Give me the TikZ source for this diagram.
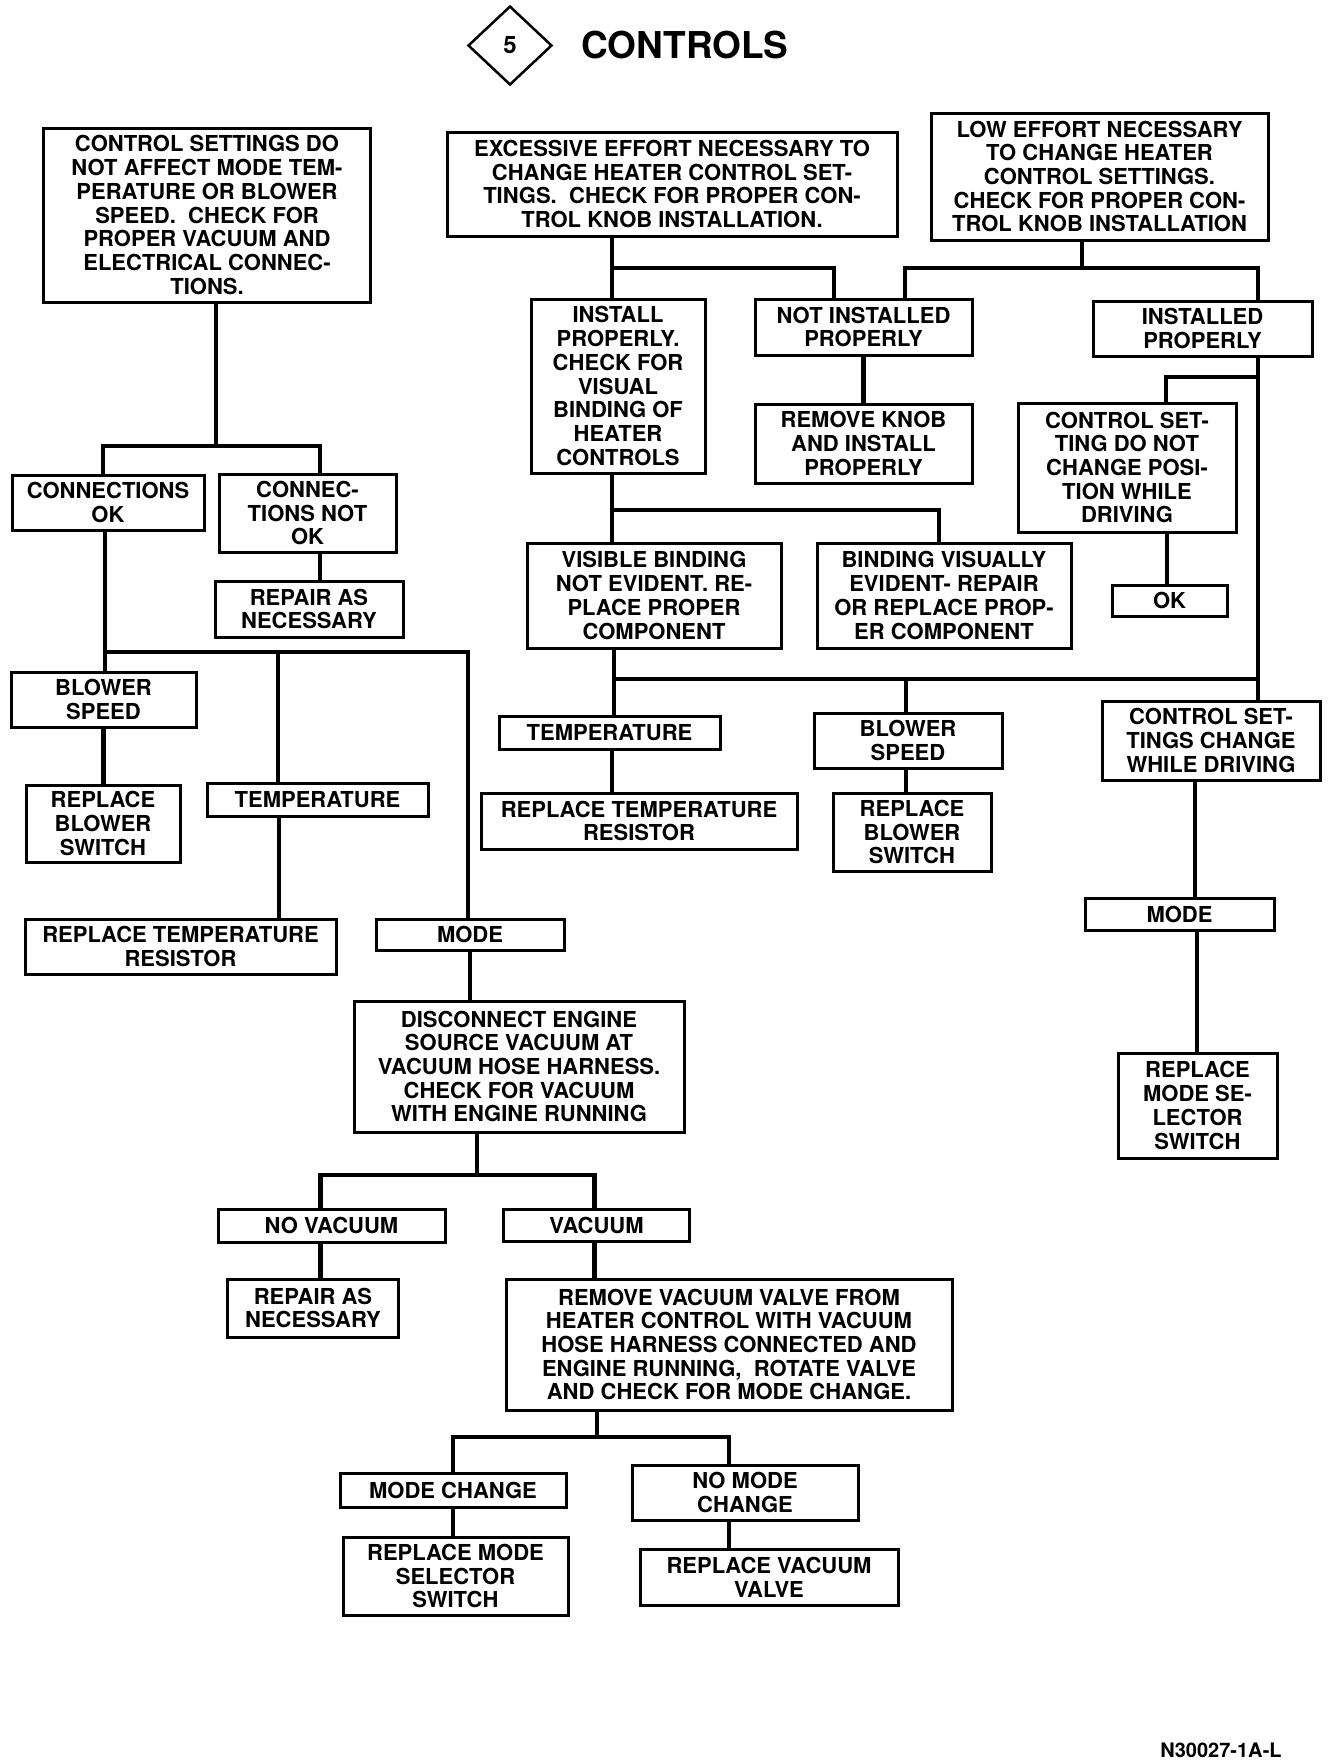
\documentclass[tikz,border=0pt]{standalone}
\usepackage{fontspec}
\setmainfont{TeX Gyre Heros}
\usetikzlibrary{shapes.geometric}

\newcommand{\boxfont}{\bfseries\fontsize{22}{23.7}\selectfont}

\tikzset{
    box/.style 2 args={draw, line width=3pt, minimum width=#1, minimum height=#2,
        inner sep=0pt, align=center, font=\boxfont},
    link/.style={line width=4.5pt}
}

\begin{document}
\begin{tikzpicture}[x=1pt, y=-1pt]

    \useasboundingbox (0, 0) rectangle (1344, 1762);

    % heading
    \node (num) at (510, 45.5) [diamond, draw, line width=2.5pt, minimum width=84pt, minimum height=79pt, inner sep=0pt] {\bfseries\fontsize{24}{24}\selectfont 5};
    \node (title) at (685, 45) {\bfseries\fontsize{37}{40}\selectfont CONTROLS};

    % top row
    \node (settings) at (207, 215) [box={327pt}{174pt}] {CONTROL SETTINGS DO\\NOT AFFECT MODE TEM-\\PERATURE OR BLOWER\\SPEED.\ \ CHECK FOR\\PROPER VACUUM AND\\ELECTRICAL CONNEC-\\TIONS.};
    \node (higheffort) at (672, 184) [box={450pt}{104pt}] {EXCESSIVE EFFORT NECESSARY TO\\CHANGE HEATER CONTROL SET-\\TINGS.\ \ CHECK FOR PROPER CON-\\TROL KNOB INSTALLATION.};
    \node (loweffort) at (1099.5, 176.5) [box={337pt}{127pt}] {LOW EFFORT NECESSARY\\TO CHANGE HEATER\\CONTROL SETTINGS.\\CHECK FOR PROPER CON-\\TROL KNOB INSTALLATION};

    % knob branch
    \node (install) at (618, 386) [box={174pt}{174pt}] {INSTALL\\PROPERLY.\\CHECK FOR\\VISUAL\\BINDING OF\\HEATER\\CONTROLS};
    \node (notinst) at (863.5, 327) [box={217pt}{56pt}] {NOT INSTALLED\\PROPERLY};
    \node (inst) at (1202.5, 328.5) [box={219pt}{55pt}] {INSTALLED\\PROPERLY};
    \node (removeknob) at (863.5, 443.5) [box={217pt}{79pt}] {REMOVE KNOB\\AND INSTALL\\PROPERLY};
    \node (nochange) at (1127, 467.5) [box={218pt}{129pt}] {CONTROL SET-\\TING DO NOT\\CHANGE POSI-\\TION WHILE\\DRIVING};
    \node (ok) at (1169.5, 600.5) [box={115pt}{31pt}] {OK};
    \node (notvisible) at (654, 595.5) [box={254pt}{105pt}] {VISIBLE BINDING\\NOT EVIDENT.\ RE-\\PLACE PROPER\\COMPONENT};
    \node (visible) at (944, 595.5) [box={254pt}{105pt}] {BINDING VISUALLY\\EVIDENT- REPAIR\\OR REPLACE PROP-\\ER COMPONENT};
    \node (tempR) at (609.5, 732.5) [box={221pt}{33pt}] {TEMPERATURE};
    \node (restempR) at (639, 821) [box={316pt}{56pt}] {REPLACE TEMPERATURE\\RESISTOR};
    \node (blowR) at (908, 740.5) [box={188pt}{55pt}] {BLOWER\\SPEED};
    \node (repblowR) at (912, 832) [box={158pt}{78pt}] {REPLACE\\BLOWER\\SWITCH};
    \node (change) at (1211, 740.5) [box={218pt}{79pt}] {CONTROL SET-\\TINGS CHANGE\\WHILE DRIVING};
    \node (modeR) at (1179.5, 914) [box={189pt}{32pt}] {MODE};
    \node (repmodeR) at (1197.5, 1105.5) [box={159pt}{105pt}] {REPLACE\\MODE SE-\\LECTOR\\SWITCH};

    % connection branch
    \node (connok) at (108, 502.5) [box={192pt}{55pt}] {CONNECTIONS\\OK};
    \node (connnot) at (307.5, 513) [box={177pt}{78pt}] {CONNEC-\\TIONS NOT\\OK};
    \node (repairA) at (309, 609) [box={188pt}{56pt}] {REPAIR AS\\NECESSARY};
    \node (blowL) at (103.5, 699.5) [box={185pt}{55pt}] {BLOWER\\SPEED};
    \node (repblowL) at (103, 823.5) [box={154pt}{77pt}] {REPLACE\\BLOWER\\SWITCH};
    \node (tempL) at (317.5, 799.5) [box={221pt}{33pt}] {TEMPERATURE};
    \node (restempL) at (180.5, 946.5) [box={311pt}{55pt}] {REPLACE TEMPERATURE\\RESISTOR};
    \node (modeL) at (470, 934.5) [box={188pt}{31pt}] {MODE};
    \node (disconnect) at (519, 1066.5) [box={330pt}{131pt}] {DISCONNECT ENGINE\\SOURCE VACUUM AT\\VACUUM HOSE HARNESS.\\CHECK FOR VACUUM\\WITH ENGINE RUNNING};
    \node (novac) at (331.5, 1225.5) [box={227pt}{33pt}] {NO VACUUM};
    \node (vac) at (596.5, 1225) [box={186pt}{32pt}] {VACUUM};
    \node (repairB) at (313, 1308) [box={171pt}{58pt}] {REPAIR AS\\NECESSARY};
    \node (removevalve) at (729, 1344.5) [box={446pt}{131pt}] {REMOVE VACUUM VALVE FROM\\HEATER CONTROL WITH VACUUM\\HOSE HARNESS CONNECTED AND\\ENGINE RUNNING,\ \ ROTATE VALVE\\AND CHECK FOR MODE CHANGE.};
    \node (modech) at (453, 1490) [box={226pt}{34pt}] {MODE CHANGE};
    \node (nomodech) at (745, 1492.5) [box={226pt}{55pt}] {NO MODE\\CHANGE};
    \node (repmodeL) at (455.5, 1576) [box={225pt}{78pt}] {REPLACE MODE\\SELECTOR\\SWITCH};
    \node (repvalve) at (769, 1577) [box={258pt}{56pt}] {REPLACE VACUUM\\VALVE};

    \node (fig) at (1221, 1757) [anchor=base] {\bfseries\fontsize{20}{20}\selectfont N30027-1A-L};

    % junctions
    \coordinate (j1) at (216, 446);
    \coordinate (j2) at (105, 652);
    \coordinate (j3) at (477, 1175);
    \coordinate (j4) at (597, 1437);
    \coordinate (j5) at (612, 268);
    \coordinate (j6) at (1082, 268);
    \coordinate (j7) at (1258, 377);
    \coordinate (j8) at (612, 510);
    \coordinate (j9) at (614, 679);

    % left tree
    \draw [link] (settings.south -| j1) -- (j1);
    \draw [link] ([xshift=-5pt]connok.north) |- (j1) -| ([xshift=12.5pt]connnot.north);
    \draw [link] ([xshift=12.5pt]connnot.south) -- ([xshift=12.5pt]connnot.south |- repairA.north);
    \draw [link] ([xshift=-3pt]connok.south) -- ([xshift=-3pt]connok.south |- blowL.north);
    \draw [link] (j2) -| ([xshift=-2pt]modeL.north);
    \draw [link] ([xshift=-39.5pt]tempL.north) -- ([xshift=-39.5pt]tempL.north |- j2);
    \draw [link] (blowL.south) -- (blowL.south |- repblowL.north);
    \draw [link] ([xshift=-38.5pt]tempL.south) -- ([xshift=-38.5pt]tempL.south |- restempL.north);
    \draw [link] (modeL.south) -- (modeL.south |- disconnect.north);
    \draw [link] (disconnect.south -| j3) -- (j3);
    \draw [link] ([xshift=-11pt]novac.north) |- (j3) -| ([xshift=-2pt]vac.north);
    \draw [link] ([xshift=-11pt]novac.south) -- ([xshift=-11pt]novac.south |- repairB.north);
    \draw [link] ([xshift=-2pt]vac.south) -- ([xshift=-2pt]vac.south |- removevalve.north);
    \draw [link] (removevalve.south -| j4) -- (j4);
    \draw [link] (modech.north) |- (j4) -| ([xshift=-16pt]nomodech.north);
    \draw [link] (modech.south) -- (modech.south |- repmodeL.north);
    \draw [link] ([xshift=-16pt]nomodech.south) -- ([xshift=-16pt]nomodech.south |- repvalve.north);

    % right tree
    \draw [link] (higheffort.south -| j5) -- (install.north -| j5);
    \draw [link] (j5) -| ([xshift=-29.5pt]notinst.north);
    \draw [link] (loweffort.south -| j6) -- (j6);
    \draw [link] ([xshift=41.5pt]notinst.north) |- (j6) -| ([xshift=55.5pt]inst.north);
    \draw [link] (notinst.south) -- (removeknob.north);
    \draw [link] ([xshift=55.5pt]inst.south) -- ([xshift=47pt]change.north);
    \draw [link] (j7) -| ([xshift=39pt]nochange.north);
    \draw [link] ([xshift=40pt]nochange.south) -- ([xshift=40pt]nochange.south |- ok.north);
    \draw [link] ([xshift=-6pt]install.south) -- ([xshift=-6pt]install.south |- notvisible.north);
    \draw [link] (j8) -| ([xshift=-5pt]visible.north);
    \draw [link] (notvisible.south -| j9) -- ([xshift=4.5pt]tempR.north);
    \draw [link] (j9) -- ([xshift=47pt]change.north |- j9);
    \draw [link] ([xshift=-2pt]blowR.north) -- ([xshift=-2pt]blowR.north |- j9);
    \draw [link] ([xshift=2.5pt]tempR.south) -- ([xshift=2.5pt]tempR.south |- restempR.north);
    \draw [link] ([xshift=-2pt]blowR.south) -- ([xshift=-2pt]blowR.south |- repblowR.north);
    \draw [link] ([xshift=-16pt]change.south) -- ([xshift=-16pt]change.south |- modeR.north);
    \draw [link] ([xshift=17.5pt]modeR.south) -- ([xshift=17.5pt]modeR.south |- repmodeR.north);

\end{tikzpicture}
\end{document}
